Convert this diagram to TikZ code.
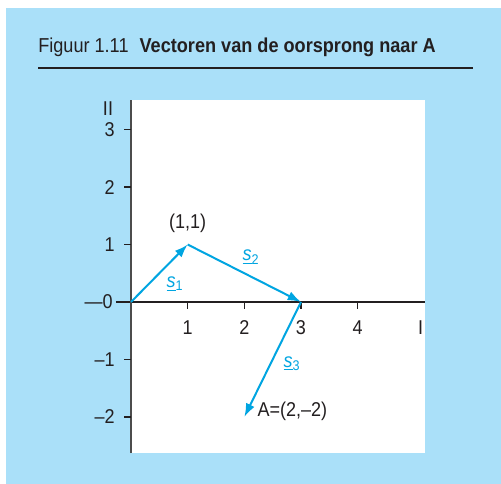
\documentclass[tikz,border=0pt]{standalone}
\usepackage{fontspec}
\setmainfont{Liberation Sans}[FakeStretch=0.9]
\usetikzlibrary{arrows.meta,positioning}
\definecolor{panelblue}{RGB}{170,224,249}
\definecolor{vecblue}{RGB}{0,165,225}
\definecolor{inkgray}{RGB}{35,31,32}
\tikzset{
  vec/.style ={draw=vecblue,line width=1.5pt,-{Latex[length=10pt,width=7pt]}},
  vlab/.style={text=vecblue,inner sep=0pt,font=\fontsize{15}{18}\selectfont},
  tlab/.style={text=inkgray,inner sep=0pt,font=\fontsize{15}{18}\selectfont},
  tck/.style ={draw=inkgray,line width=0.9pt},
}

\begin{document}
\begin{tikzpicture}[x=0.75pt,y=0.75pt]
  \useasboundingbox (0,0) rectangle (501,484);
  \fill[panelblue] (6,0) rectangle (501,476);
  \node[anchor=base west,inner sep=0pt,text=inkgray,font=\fontsize{15.1}{18}\selectfont] (title) at (38,431)
    {Figuur 1.11\hspace{0.55em}\textbf{Vectoren van de oorsprong naar A}};
  \draw[inkgray,line width=1.1pt] (38,416) -- (473,416);
  \fill[white] (131,31) rectangle (425,384);
  \begin{scope}[shift={(98.25pt,136.5pt)},x=42.5pt,y=43.1pt]
    % axes
    \draw[inkgray,line width=1.1pt] (-0.265,0) -- (5.19,0);
    \draw[gray!60!black,line width=1.5pt] (0,-2.63) -- (0,3.51);
    \foreach \y/\t in {3/3,2/2,1/1,-1/--1,-2/--2}{
      \draw[tck] (0,\y) -- ++(-5.25pt,0);
      \node[tlab,anchor=east,xshift=-12pt] at (0,\y) {\t};
    }
    \node[tlab,anchor=east,xshift=-13.5pt] (zero) at (0,0) {---0};
    \node[tlab,xshift=-17.25pt] (ylab) at (0,3.36) {II};
    \foreach \x in {1,...,4}{
      \draw[tck] (\x,0) -- ++(0,-5.25pt);
      \node[tlab,yshift=-19pt] at (\x,0) {\x};
    }
    \node[tlab,yshift=-19pt] (xlab) at (5.11,0) {I};
    % vectors
    \coordinate (O) at (0,0);
    \coordinate (P) at (1,1);
    \coordinate (Q) at (3,0);
    \coordinate (A) at (2,-2);
    \draw[vec] (O) -- (P);
    \draw[vec] (P) -- (Q);
    \draw[vec] (Q) -- (A);
    \node[tlab,above=9pt of P] (pP) {(1,1)};
    \node[tlab,right=9.75pt of A,yshift=4pt] (pA) {A=(2,--2)};
    \node[vlab] (s1) at (0.776,0.313) {\underline{\textit{s}}\textsubscript{1}};
    \node[vlab] (s2) at (2.116,0.78) {\underline{\textit{s}}\textsubscript{2}};
    \node[vlab] (s3) at (2.84,-1.07) {\underline{\textit{s}}\textsubscript{3}};
  \end{scope}
\end{tikzpicture}
\end{document}
